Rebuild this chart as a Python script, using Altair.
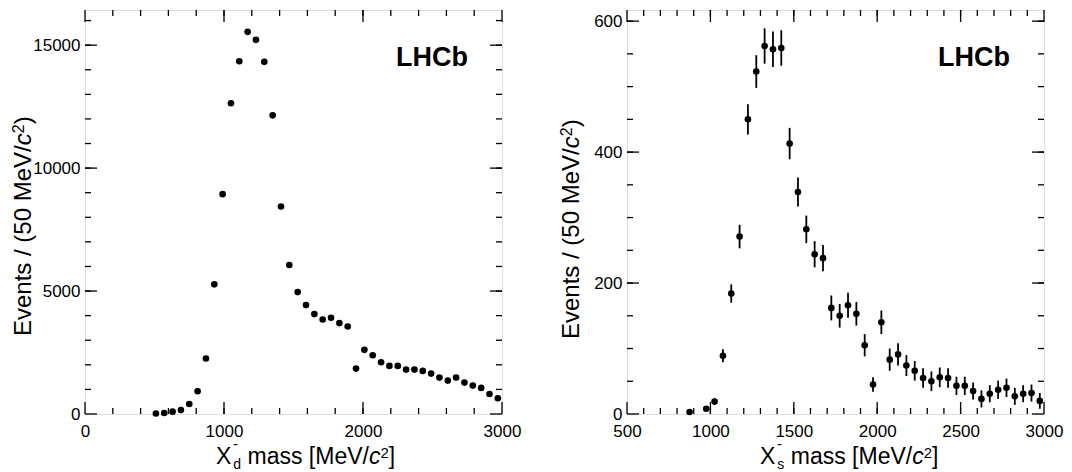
import altair as alt
import pandas as pd

FONT = "Liberation Sans"
W, H = 417, 404

# left panel: X_d- mass spectrum (60 MeV bins)
xd_mass = [510, 570, 630, 690, 750, 810, 870, 930, 990, 1050, 1110, 1170, 1230, 1290,
           1350, 1410, 1470, 1530, 1590, 1650, 1710, 1770, 1830, 1890, 1950, 2010, 2070,
           2130, 2190, 2250, 2310, 2370, 2430, 2490, 2550, 2610, 2670, 2730, 2790, 2850,
           2910, 2970]
xd_events = [20, 40, 95, 163, 408, 924, 2255, 5272, 8940, 12636, 14348, 15543, 15217,
             14321, 12147, 8438, 6060, 4959, 4429, 4063, 3845, 3913, 3696, 3560, 1848,
             2609, 2391, 2106, 1957, 1957, 1807, 1807, 1753, 1644, 1481, 1359, 1481, 1277,
             1155, 1060, 815, 639]

# right panel: X_s- mass spectrum (50 MeV bins)
xs_mass = [875, 975, 1025, 1075, 1125, 1175, 1225, 1275, 1325, 1375, 1425, 1475, 1525,
           1575, 1625, 1675, 1725, 1775, 1825, 1875, 1925, 1975, 2025, 2075, 2125, 2175,
           2225, 2275, 2325, 2375, 2425, 2475, 2525, 2575, 2625, 2675, 2725, 2775, 2825,
           2875, 2925, 2975]
xs_events = [3, 8, 19, 89, 184, 271, 450, 523, 562, 557, 559, 413, 339, 282, 244, 238,
             162, 150, 166, 153, 105, 45, 140, 83, 91, 74, 66, 55, 50, 56, 55, 43, 43, 35,
             23, 31, 37, 40, 27, 31, 32, 20]
xs_err = [2, 3, 5, 10, 14, 18, 23, 25, 27, 27, 27, 24, 22, 21, 20, 20, 19, 18, 19, 18,
          17, 11, 18, 17, 17, 16, 15, 15, 15, 15, 15, 14, 14, 13, 13, 13, 14, 14, 13, 13,
          13, 12]

# Arial / Liberation Sans advance widths (per 1000 em)
WIDTHS = {"X": 667, "d": 556, "s": 500, " ": 278, "m": 833, "a": 556,
          "[": 278, "M": 833, "e": 556, "V": 667, "/": 278, "c": 500, "2": 556,
          "]": 278, "E": 667, "v": 500, "n": 556, "t": 278, "(": 333, "5": 556,
          "0": 556, ")": 333, "-": 333}

DUMMY = pd.DataFrame({"a": [0]})


def text_width(s, size):
    return sum(WIDTHS.get(ch, 556) for ch in s) * size / 1000


def rich_text(pieces, x0, y0, vertical=False):
    # pieces: (text, size, baseline shift up, italic, advances); text None = a space
    layers = []
    pos = 0.0
    for text, size, shift, italic, advance in pieces:
        if text is None:
            pos += text_width(" ", size)
            continue
        if vertical:
            px, py = x0 - shift, y0 - pos
        else:
            px, py = x0 + pos, y0 - shift
        layers.append(
            alt.Chart(DUMMY).mark_text(
                text=text, font=FONT, fontSize=size,
                fontStyle="italic" if italic else "normal",
                align="left", baseline="alphabetic",
                angle=270 if vertical else 0, color="black"
            ).encode(x=alt.value(px), y=alt.value(py))
        )
        if advance:
            pos += text_width(text, size) + (2 if text == "X" else 0)
    return layers


def x_title(sub):
    return [("X", 23, 0, False, True),
            ("-", 14, 15, False, False),
            (sub, 14, -5, False, True),
            (None, 23, 0, False, True),
            ("mass [MeV/", 23, 0, False, True),
            ("c", 23, 0, True, True),
            ("2", 15, 6, False, True),
            ("]", 23, 0, False, True)]


Y_TITLE = [("Events / (50 MeV/", 24, 0, False, True),
           ("c", 24, 0, True, True),
           ("2", 16, 7, False, True),
           (")", 24, 0, False, True)]


def tick_layers(values, channel, scale, axis, length, sides):
    df = pd.DataFrame({"v": values})
    out = []
    for side in sides:
        rule = alt.Chart(df).mark_rule(color="black", strokeWidth=1.3)
        if channel == "x":
            pos = alt.X("v:Q", scale=scale, axis=axis)
            if side == "bottom":
                out.append(rule.encode(x=pos, y=alt.value(H), y2=alt.value(H - length)))
            else:
                out.append(rule.encode(x=pos, y=alt.value(0), y2=alt.value(length)))
        else:
            pos = alt.Y("v:Q", scale=scale, axis=axis)
            if side == "left":
                out.append(rule.encode(y=pos, x=alt.value(0), x2=alt.value(length)))
            else:
                out.append(rule.encode(y=pos, x=alt.value(W), x2=alt.value(W - length)))
    return out


def panel(mass, events, err, xdom, ydom, xmajor, xminor, ymajor, yminor, sub,
          ytitle_x, ytitle_y, xtitle_x):
    df = pd.DataFrame({"mass": mass, "events": events})
    xs = alt.Scale(domain=xdom, nice=False, zero=False)
    ys = alt.Scale(domain=ydom, nice=False)
    label_style = dict(labelFont=FONT, labelFontSize=17, labelColor="black",
                       ticks=False, domain=False, grid=False, title=None,
                       labelFlush=False, labelOverlap=False, format="d")
    xaxis = alt.Axis(values=xmajor, labelPadding=9, **label_style)
    yaxis = alt.Axis(values=ymajor, labelPadding=5, **label_style)

    points = alt.Chart(df).mark_point(
        filled=True, shape="circle", size=44, color="black", opacity=1
    ).encode(
        x=alt.X("mass:Q", scale=xs, axis=xaxis),
        y=alt.Y("events:Q", scale=ys, axis=yaxis),
    )
    layers = [points]
    if err is not None:
        df["lo"] = [e - d for e, d in zip(events, err)]
        df["hi"] = [e + d for e, d in zip(events, err)]
        layers.append(
            alt.Chart(df).mark_rule(color="black", strokeWidth=1.8).encode(
                x=alt.X("mass:Q", scale=xs, axis=xaxis),
                y=alt.Y("lo:Q", scale=ys, axis=yaxis),
                y2="hi:Q")
        )
    layers += tick_layers(xmajor, "x", xs, xaxis, 12, ["bottom", "top"])
    layers += tick_layers(xminor, "x", xs, xaxis, 6, ["bottom", "top"])
    layers += tick_layers(ymajor, "y", ys, yaxis, 12, ["left", "right"])
    layers += tick_layers(yminor, "y", ys, yaxis, 6, ["left", "right"])
    layers.append(
        alt.Chart(DUMMY).mark_text(
            text="LHCb", font=FONT, fontSize=27, fontWeight="bold",
            align="right", baseline="alphabetic", color="black"
        ).encode(x=alt.value(383), y=alt.value(56))
    )
    layers += rich_text(x_title(sub), xtitle_x, 454)
    layers += rich_text(Y_TITLE, ytitle_x, ytitle_y, vertical=True)
    return alt.layer(*layers).properties(width=W, height=H)


left = panel(xd_mass, xd_events, None, [0, 3000], [0, 16430],
             [0, 1000, 2000, 3000], list(range(200, 3000, 200)),
             [0, 5000, 10000, 15000], list(range(1000, 16001, 1000)),
             "d", -54, 326, 131)

right = panel(xs_mass, xs_events, xs_err, [500, 3000], [0, 617],
              [500, 1000, 1500, 2000, 2500, 3000], list(range(600, 3000, 100)),
              [0, 200, 400, 600], list(range(50, 601, 50)),
              "s", -48, 329, 133)

chart = alt.hconcat(left, right, spacing=125, bounds="flush").properties(
    padding={"left": 2, "top": 0, "right": 0, "bottom": 0}
).configure_view(
    stroke="black", strokeWidth=1.5
).configure(font=FONT)

chart.save("out.html", embed_options={"renderer": "svg", "actions": False})
